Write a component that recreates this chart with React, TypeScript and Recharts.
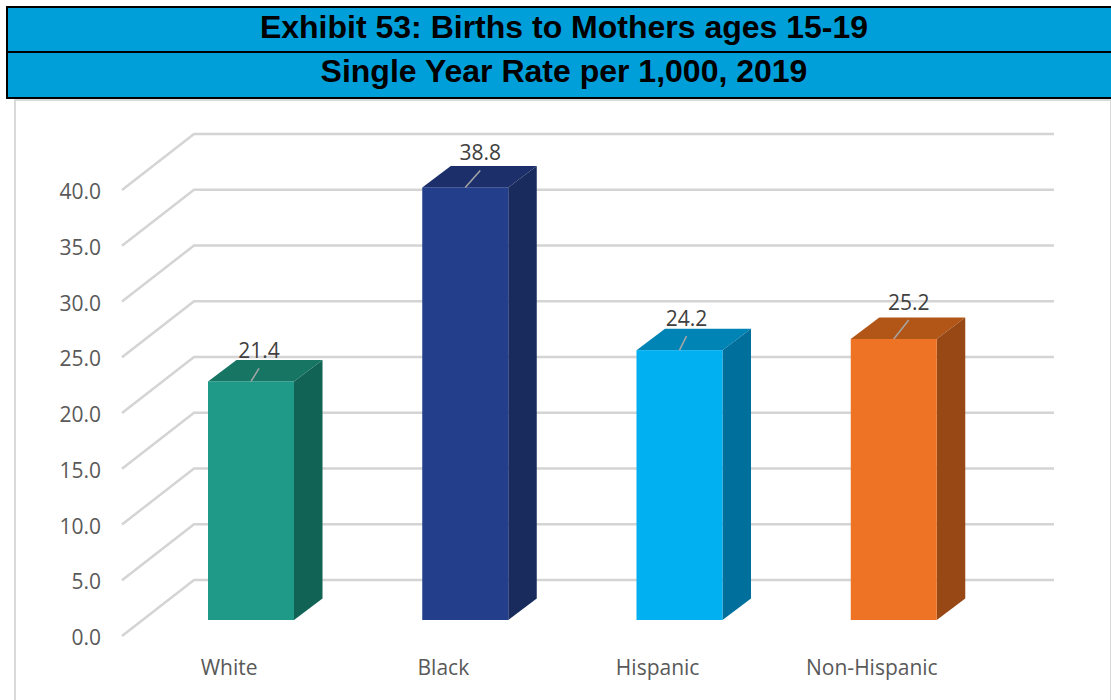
import React from 'react';
import { BarChart, Bar, XAxis, YAxis, CartesianGrid, LabelList } from 'recharts';

const categories = ['White', 'Black', 'Hispanic', 'Non-Hispanic'];
const rates = [21.4, 38.8, 24.2, 25.2];
const yTicks = [0, 5, 10, 15, 20, 25, 30, 35, 40];

// front, top, side
const faceColors = [
  ['#1F9988', '#167563', '#116355'],
  ['#233E8B', '#1C2F6B', '#182B5C'],
  ['#00B0F0', '#0084B5', '#006F9C'],
  ['#EE7325', '#B25618', '#974815'],
];

// where Excel dragged each data label to, relative to the top of the bar
const labelNudge = [
  { dx: 8, dy: -13 },
  { dx: 15, dy: -17 },
  { dx: 7, dy: -14 },
  { dx: 15, dy: -19 },
];

const data = categories.map((name, i) => ({ name, rate: rates[i] }));

const DEPTH_X = 28.5;
const DEPTH_Y = 21.5;
const FONT = '"Open Sans", sans-serif';
const GRID_COLOR = '#d4d4d4';

const Bar3D = (props: any) => {
  const { x, y, width, height, index } = props;
  const [front, top, side] = faceColors[index];
  const topFace = `${x},${y} ${x + DEPTH_X},${y - DEPTH_Y} ${x + width + DEPTH_X},${y - DEPTH_Y} ${x + width},${y}`;
  const sideFace = `${x + width},${y} ${x + width + DEPTH_X},${y - DEPTH_Y} ${x + width + DEPTH_X},${y + height - DEPTH_Y} ${x + width},${y + height}`;
  return (
    <g>
      <polygon points={topFace} fill={top} />
      <polygon points={sideFace} fill={side} />
      <rect x={x} y={y} width={width} height={height} fill={front} />
    </g>
  );
};

// floor/wall lines sit on the 3D planes, so they are shifted off the bar scale
const WallLine = (props: any) => {
  const { y1 } = props;
  return (
    <polyline
      points={`122,${y1 + 16} 194,${y1 - 40} 1054,${y1 - 40}`}
      fill="none"
      stroke={GRID_COLOR}
      strokeWidth={2.5}
    />
  );
};

const YTick = (props: any) => {
  const { y, payload } = props;
  return (
    <text x={101} y={y + 16 + 9} textAnchor="end" fontFamily={FONT} fontSize={21} fill="#595959">
      {payload.value.toFixed(1)}
    </text>
  );
};

const XTick = (props: any) => {
  const { x, payload } = props;
  return (
    <text x={x - 22} y={675} textAnchor="middle" fontFamily={FONT} fontSize={21} fill="#595959">
      {payload.value}
    </text>
  );
};

const RateLabel = (props: any) => {
  const { x, y, width, value, index } = props;
  const cx = x + width / 2;
  const { dx, dy } = labelNudge[index];
  return (
    <g>
      <line x1={cx} y1={y} x2={cx + dx} y2={y + dy} stroke="#a6a6a6" strokeWidth={1.5} />
      <text x={cx + dx} y={y + dy - 10} textAnchor="middle" fontFamily={FONT} fontSize={21} fill="#404040">
        {value.toFixed(1)}
      </text>
    </g>
  );
};

const titleStyle: React.CSSProperties = {
  position: 'absolute',
  left: 0,
  width: 1128,
  textAlign: 'center',
  fontFamily: '"Liberation Sans", sans-serif',
  fontWeight: 700,
  fontSize: 32,
  color: '#000',
};

export default function App() {
  return (
    <div style={{ position: 'absolute', left: 0, top: 0, width: 1111, height: 700, overflow: 'hidden', background: '#fff' }}>
      <div
        style={{
          position: 'absolute',
          left: 14,
          top: 99,
          width: 1094,
          height: 620,
          border: '2px solid #d9d9d9',
        }}
      />
      <div
        style={{
          position: 'absolute',
          left: 6,
          top: 6,
          width: 1105,
          height: 93,
          boxSizing: 'border-box',
          background: '#009FD9',
          borderLeft: '2px solid #000',
          borderTop: '2px solid #000',
          borderBottom: '2px solid #000',
        }}
      />
      <div style={{ position: 'absolute', left: 6, top: 51, width: 1105, height: 2, background: '#000' }} />
      <div style={{ ...titleStyle, top: 9, lineHeight: '36px' }}>Exhibit 53: Births to Mothers ages 15-19</div>
      <div style={{ ...titleStyle, top: 53, lineHeight: '36px' }}>Single Year Rate per 1,000, 2019</div>
      <div style={{ position: 'absolute', left: 0, top: 0 }}>
        <BarChart
          width={1111}
          height={700}
          data={data}
          barCategoryGap={0}
          margin={{ top: 174, right: 110, bottom: 50, left: 0 }}
        >
          <CartesianGrid vertical={false} horizontal={(p: any) => <WallLine key={p.index} {...p} />} />
          <XAxis dataKey="name" axisLine={false} tickLine={false} tick={<XTick />} interval={0} />
          <YAxis
            width={144}
            domain={[0, 40]}
            ticks={yTicks}
            axisLine={false}
            tickLine={false}
            tick={<YTick />}
            interval={0}
          />
          <Bar dataKey="rate" barSize={86} shape={<Bar3D />} isAnimationActive={false}>
            <LabelList dataKey="rate" content={<RateLabel />} />
          </Bar>
        </BarChart>
      </div>
    </div>
  );
}
